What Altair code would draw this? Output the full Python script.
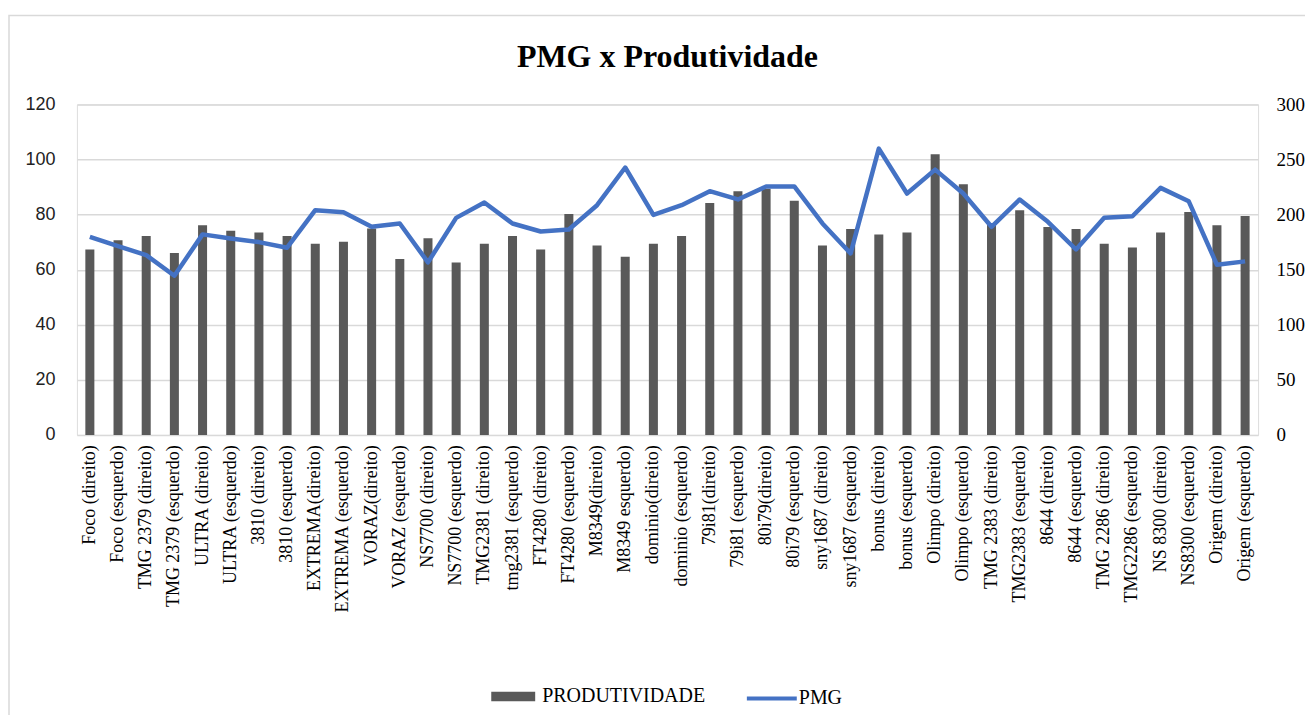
import altair as alt
import pandas as pd

categorias = [
    "Foco (direito)", "Foco (esquerdo)", "TMG 2379 (direito)", "TMG 2379 (esquerdo)",
    "ULTRA (direito)", "ULTRA (esquerdo)", "3810 (direito)", "3810 (esquerdo)",
    "EXTREMA(direito)", "EXTREMA (esquerdo)", "VORAZ(direito)", "VORAZ (esquerdo)",
    "NS7700 (direito)", "NS7700  (esquerdo)", "TMG2381 (direito)", "tmg2381  (esquerdo)",
    "FT4280 (direito)", "FT4280 (esquerdo)", "M8349(direito)", "M8349 esquerdo)",
    "dominio(direito)", "dominio (esquerdo)", "79i81(direito)", "79i81 (esquerdo)",
    "80i79(direito)", "80i79 (esquerdo)", "sny1687 (direito)", "sny1687 (esquerdo)",
    "bonus (direito)", "bonus (esquerdo)", "Olimpo (direito)", "Olimpo (esquerdo)",
    "TMG 2383 (direito)", "TMG2383 (esquerdo)", "8644 (direito)", "8644 (esquerdo)",
    "TMG 2286 (direito)", "TMG2286 (esquerdo)", "NS 8300 (direito)", "NS8300 (esquerdo)",
    "Origem (direito)", "Origem (esquerdo)",
]

produtividade = [
    67.3, 70.7, 72.2, 66.0, 76.1, 74.1, 73.5, 72.2, 69.4, 70.1, 74.9, 63.9,
    71.4, 62.6, 69.4, 72.2, 67.3, 80.2, 68.8, 64.7, 69.4, 72.2, 84.2, 88.5,
    89.4, 85.0, 68.8, 74.8, 72.8, 73.5, 101.9, 91.0, 76.5, 81.6, 75.5, 74.8,
    69.4, 68.0, 73.5, 80.9, 76.1, 79.5,
]

pmg = [
    179.8, 171.3, 163.2, 144.5, 182.0, 178.3, 175.0, 169.9, 204.0, 202.0, 188.9, 191.9,
    156.6, 197.0, 210.9, 191.9, 184.6, 186.4, 208.5, 242.7, 199.7, 208.5, 221.2, 213.7,
    225.5, 225.5, 191.9, 164.7, 259.9, 219.1, 240.8, 219.1, 188.9, 213.7, 193.4, 168.3,
    197.0, 198.5, 224.2, 212.0, 154.4, 157.5,
]

df = pd.DataFrame({"cat": categorias, "prod": produtividade, "pmg": pmg})

SERIF = "Liberation Serif"
SANS = "Liberation Sans"

x_enc = alt.X(
    "cat:N",
    sort=categorias,
    title=None,
    scale=alt.Scale(paddingInner=0.68, paddingOuter=0.3),
    axis=alt.Axis(
        labelAngle=-90, labelFont=SERIF, labelFontSize=18, labelColor="#000000",
        labelPadding=10, ticks=False, domain=False, grid=False, labelLimit=300,
    ),
)

bars = alt.Chart(df).transform_calculate(s1="'PRODUTIVIDADE'").mark_bar(
    color="#595959"
).encode(
    x=x_enc,
    y=alt.Y(
        "prod:Q",
        title=None,
        scale=alt.Scale(domain=[0, 120], nice=False),
        axis=alt.Axis(
            values=[0, 20, 40, 60, 80, 100, 120], labelFont=SANS, labelFontSize=18,
            labelColor="#222222", labelPadding=22, ticks=False, domain=False,
            grid=True, gridColor="#d9d9d9", gridWidth=1.5,
        ),
    ),
    color=alt.Color(
        "s1:N",
        scale=alt.Scale(domain=["PRODUTIVIDADE"], range=["#595959"]),
        legend=alt.Legend(
            title=None, orient="none", legendX=415, legendY=571,
            symbolType="M-1,-0.22L1,-0.22L1,0.22L-1,0.22Z", symbolSize=1936,
            symbolStrokeWidth=0, labelFont=SERIF, labelFontSize=20,
            labelColor="#000000", labelOffset=7, padding=0, labelLimit=400,
        ),
    ),
)

line = alt.Chart(df).transform_calculate(s2="'PMG'").mark_line(
    strokeWidth=4.5, strokeJoin="round"
).encode(
    x=alt.X("cat:N", sort=categorias),
    y=alt.Y(
        "pmg:Q",
        title=None,
        scale=alt.Scale(domain=[0, 300], nice=False),
        axis=alt.Axis(
            orient="right", values=[0, 50, 100, 150, 200, 250, 300], labelFont=SERIF,
            labelFontSize=19, labelColor="#000000", labelPadding=18, ticks=False,
            domain=False, grid=False,
        ),
    ),
    stroke=alt.Stroke(
        "s2:N",
        scale=alt.Scale(domain=["PMG"], range=["#4472c4"]),
        legend=alt.Legend(
            title=None, orient="none", legendX=669, legendY=568,
            symbolType="stroke", symbolSize=2500, symbolStrokeWidth=4,
            labelFont=SERIF, labelFontSize=20, labelColor="#000000",
            labelOffset=0, padding=0, labelLimit=400,
        ),
    ),
)

frame = alt.Chart(pd.DataFrame({"f": [0]})).mark_rect(
    fill="transparent", stroke="#d9d9d9", strokeWidth=1.5
).encode(
    x=alt.value(-68), x2=alt.value(1300), y=alt.value(-89), y2=alt.value(700)
)

chart = alt.layer(frame, bars, line).resolve_scale(
    y="independent", color="independent", stroke="independent"
).properties(
    width=1183,
    height=331,
    padding={"left": 69, "top": 96, "right": 47, "bottom": 280},
    autosize=alt.AutoSizeParams(type="none"),
    title=alt.TitleParams(
        "PMG x Produtividade", font=SERIF, fontSize=32, fontWeight="bold",
        color="#000000", anchor="middle", offset=-84, baseline="alphabetic",
    ),
).configure_view(stroke=None).configure(background="white")

chart.save("out.html", embed_options={"renderer": "svg", "actions": False})
